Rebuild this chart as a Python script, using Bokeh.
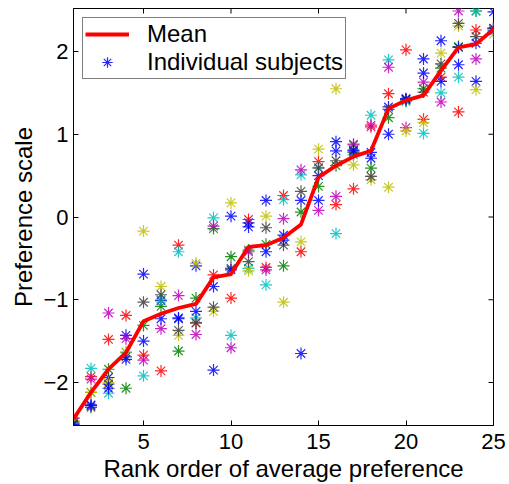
import math
from bokeh.plotting import figure
from bokeh.models import Range1d, FixedTicker, Legend, LegendItem
from bokeh.embed import file_html
from bokeh.resources import INLINE

ranks = list(range(1, 26))

mean_pref = [-2.44, -2.12, -1.84, -1.64, -1.26, -1.17, -1.10, -1.05, -0.73, -0.69,
             -0.36, -0.34, -0.25, -0.09, 0.48, 0.62, 0.73, 0.80, 1.31, 1.41,
             1.47, 1.77, 2.05, 2.09, 2.27]

subj_b1 = [-2.50, -2.28, -1.94, -1.43, -0.69, -1.01, -1.23, -0.59, -0.84, 0.01,
           -0.07, 0.20, -0.22, 0.20, 0.50, 0.91, 0.81, 0.71, 1.33, 1.42,
           1.91, 2.13, 1.84, 1.64, 2.48]
subj_g = [-2.47, -2.12, -1.84, -2.07, -1.31, -1.08, -1.62, -0.98, -0.14, -0.48,
          -0.40, -0.33, -0.59, 0.06, 0.37, 0.62, 0.87, 0.59, 1.20, 1.40,
          1.55, 1.80, 2.06, 2.49, 2.28]
subj_r = [-2.43, -1.93, -1.48, -1.19, -1.67, -1.86, -0.34, -1.28, -0.70, -0.98,
          -0.03, -0.61, 0.26, -0.42, 0.67, 0.15, 0.34, 1.09, 1.49, 2.02,
          1.18, 1.69, 1.27, 2.26, 2.28]
subj_c = [-2.48, -1.83, -2.13, -1.64, -1.92, -1.00, -0.42, -1.22, -0.01, -1.43,
          -0.62, -0.82, 0.21, 0.51, 0.60, -0.20, 0.75, 1.23, 1.90, 1.40,
          1.01, 1.50, 1.69, 2.49, 2.27]
subj_m = [-2.43, -1.96, -1.16, -1.47, -1.73, -1.35, -0.95, -1.42, -0.11, -1.58,
          -0.42, -0.64, -0.02, 0.57, 0.08, 0.25, 0.88, 1.11, 1.81, 1.08,
          1.63, 1.39, 2.49, 1.91, 2.28]
subj_y = [-2.46, -2.12, -2.00, -1.63, -0.17, -0.84, -1.43, -0.56, -1.14, 0.17,
          -0.65, 0.01, -1.03, -0.30, 0.82, 1.55, 0.63, 0.45, 0.36, 1.04,
          1.14, 1.98, 2.31, 1.54, 2.21]
subj_k = [-2.49, -2.30, -2.02, -1.69, -1.03, -0.94, -1.37, -1.28, -1.09, -0.62,
          -0.54, -0.13, -0.34, 0.31, 0.59, 0.68, 0.78, 0.49, 1.30, 1.42,
          1.51, 1.85, 2.34, 2.18, 2.28]
subj_b2 = [-2.51, -2.27, -2.07, -1.72, -1.50, -1.23, -1.22, -1.14, -1.85, -0.64,
           -0.12, -0.42, -0.28, -1.65, 0.20, 0.80, 0.80, 0.78, 1.00, 1.43,
           1.74, 1.64, 2.05, 2.10, 2.25]

subjects = [subj_b1, subj_g, subj_r, subj_c, subj_m, subj_y, subj_k, subj_b2]
subject_colors = ["#0000ff", "#008000", "#ff0000", "#00bfbf", "#bf00bf", "#bfbf00", "#404040", "#0000ff"]

x_ticks = [5, 10, 15, 20, 25]
y_ticks = [-2, -1, 0, 1, 2]
x_lim = (1, 25)
y_lim = (-2.52, 2.52)

FONT = "Liberation Sans"

p = figure(width=509, height=484, output_backend="svg", toolbar_location=None,
           x_range=Range1d(*x_lim), y_range=Range1d(*y_lim),
           min_border_left=73, min_border_right=16, min_border_top=8, min_border_bottom=57)
p.xgrid.visible = False
p.ygrid.visible = False
p.outline_line_color = "black"
p.outline_line_width = 1
p.background_fill_color = "white"
p.border_fill_color = "white"

for ax, ticks in ((p.xaxis[0], x_ticks), (p.yaxis[0], y_ticks)):
    ax.ticker = FixedTicker(ticks=ticks)
    ax.major_tick_in = 5
    ax.major_tick_out = 0
    ax.minor_tick_line_color = None
    ax.axis_line_color = "black"
    ax.major_label_text_font = FONT
    ax.major_label_text_font_size = "22px"
    ax.major_label_text_color = "black"
    ax.axis_label_text_font = FONT
    ax.axis_label_text_font_size = "24px"
    ax.axis_label_text_font_style = "normal"
    ax.axis_label_text_color = "black"
    ax.major_label_overrides = {t: (("\u2212" + str(abs(t))) if t < 0 else str(t)) for t in ticks}

p.xaxis[0].axis_label = "Rank order of average preference"
p.yaxis[0].axis_label = "Preference scale"
p.xaxis[0].major_label_standoff = 8
p.yaxis[0].major_label_standoff = 5
p.xaxis[0].axis_label_standoff = 3
p.yaxis[0].axis_label_standoff = 3

# inward tick marks on the top and right edges of the box (clipped to the frame)
p.scatter(x_ticks, [y_lim[1]] * len(x_ticks), marker="dash", angle=math.pi / 2,
          size=10, line_color="black", line_width=1)
p.scatter([x_lim[1]] * len(y_ticks), y_ticks, marker="dash",
          size=10, line_color="black", line_width=1)

scat = []
for vals, col in zip(subjects, subject_colors):
    r = p.scatter(ranks, vals, marker="asterisk", size=12, line_color=col, line_width=1.2, line_alpha=0.85)
    scat.append(r)

mean_r = p.line(ranks, mean_pref, line_color="#ff0000", line_width=3.8)

legend = Legend(items=[LegendItem(label="Mean", renderers=[mean_r]),
                       LegendItem(label="Individual subjects", renderers=[scat[0]])],
                location="top_left")
legend.margin = 9
legend.padding = 2
legend.spacing = 0
legend.glyph_width = 44
legend.glyph_height = 26
legend.label_height = 26
legend.label_standoff = 18
legend.label_text_font = FONT
legend.label_text_font_size = "24px"
legend.label_text_color = "black"
legend.border_line_color = "black"
legend.border_line_width = 1.5
legend.background_fill_color = "white"
legend.background_fill_alpha = 1
p.add_layout(legend, "center")

open("out.html", "w").write(file_html(p, INLINE))
